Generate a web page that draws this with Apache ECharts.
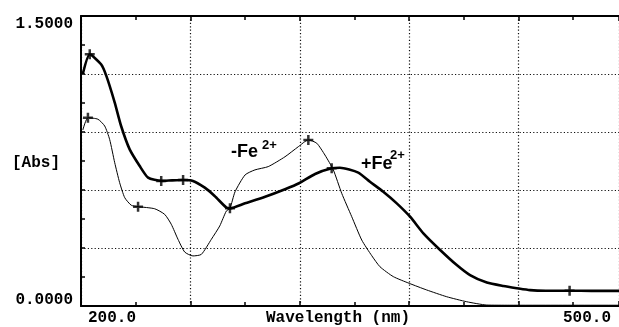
<!DOCTYPE html>
<html>
<head>
<meta charset="utf-8">
<script src="https://cdn.jsdelivr.net/npm/echarts@6/dist/echarts.min.js"></script>
<style>
  html, body { margin: 0; padding: 0; background: #fff; }
  #show { width: 619px; height: 327px; }
</style>
</head>
<body>
<div id="show"></div>
<script>
// +Fe2+ (thick trace)
var plusWl  = [201, 204.8, 211, 213.9, 218.5, 222, 226.7, 232.2, 236.8, 244, 250, 256, 261.4, 267.9, 273.3, 279.7, 281.7, 290, 301, 311.9, 319.6, 328.4, 337.5, 342, 352.1, 358.5, 365.8, 373.2, 380.5, 387.8, 397, 406.1, 413.4, 422.6, 431.7, 439, 446.3, 455, 468, 480, 494, 500];
var plusAbs = [1.2, 1.302, 1.25, 1.19, 1.052, 0.931, 0.81, 0.724, 0.664, 0.647, 0.65, 0.652, 0.647, 0.612, 0.569, 0.509, 0.505, 0.531, 0.565, 0.604, 0.635, 0.683, 0.712, 0.715, 0.69, 0.643, 0.591, 0.531, 0.462, 0.376, 0.29, 0.212, 0.16, 0.121, 0.103, 0.092, 0.082, 0.079, 0.079, 0.078, 0.078, 0.078];
// -Fe2+ (thin trace)
var minusWl  = [201, 203.8, 209.3, 213, 215.7, 218.5, 221.2, 224, 227.6, 231.3, 240.4, 245.9, 249.5, 253.2, 256.9, 261.4, 266, 271.5, 276.1, 279.7, 281.7, 284.5, 290, 295.4, 302.7, 311.9, 319.2, 324.7, 329.3, 333.8, 338.4, 343, 348.5, 354, 359.5, 364, 371.3, 380.1, 389.6, 400.6, 411.6, 422.6, 435, 460, 500];
var minusAbs = [0.91, 0.974, 0.966, 0.931, 0.862, 0.741, 0.638, 0.56, 0.521, 0.514, 0.503, 0.474, 0.423, 0.345, 0.279, 0.259, 0.267, 0.345, 0.414, 0.491, 0.505, 0.591, 0.678, 0.704, 0.721, 0.772, 0.824, 0.859, 0.842, 0.781, 0.704, 0.583, 0.462, 0.341, 0.26, 0.203, 0.152, 0.117, 0.083, 0.048, 0.022, 0.005, 0.004, 0.004, 0.004];
// cursor marks
var plusMarks  = [[204.8, 1.302], [244, 0.647], [256, 0.652], [281.7, 0.505], [337.5, 0.712], [468, 0.079]];
var minusMarks = [[203.8, 0.974], [231.3, 0.514], [324.7, 0.859]];
// axis text
var yTop = '1.5000', yBottom = '0.0000', yName = '[Abs]';
var xStart = '200.0', xEnd = '500.0', xName = 'Wavelength (nm)';

function zip(a, b) {
    var out = [];
    for (var i = 0; i < a.length; i++) out.push([a[i], b[i]]);
    return out;
}

var myChart = echarts.init(document.getElementById('show'));
var dots = { color: '#111', width: 1.2, type: [1.2, 2.2] };
var plus = 'path://M3,0h2v3h3v2h-3v3h-2v-3h-3v-2h3z';
var mono = '"Liberation Mono", "DejaVu Sans Mono", monospace';
var sans = '"Liberation Sans", Arial, sans-serif';
// the scan runs 200-500 nm but the picture is cut a little before 500
var xMax = 495.1;

function xAx(pos, split) {
    return {
        type: 'value', position: pos, min: 200, max: xMax, interval: 60,
        axisLine: { show: true, onZero: false, lineStyle: { color: '#000', width: 2 } },
        axisTick: { show: true, inside: true, length: 5, lineStyle: { color: '#000', width: 1.5 } },
        minorTick: { show: true, splitNumber: 2, length: 4, lineStyle: { color: '#000', width: 1.5 } },
        axisLabel: { show: false },
        splitLine: { show: split, lineStyle: dots }
    };
}

option = {
    animation: false,
    backgroundColor: '#fff',
    grid: { left: 81, right: 0, top: 16, bottom: 21 },
    xAxis: [xAx('bottom', true), xAx('top', false)],
    yAxis: {
        type: 'value', min: 0, max: 1.5, interval: 0.3,
        axisLine: { show: true, lineStyle: { color: '#000', width: 2 } },
        axisTick: { show: true, inside: true, length: 4, lineStyle: { color: '#000', width: 1.5 } },
        minorTick: { show: true, splitNumber: 2, length: 4, lineStyle: { color: '#000', width: 1.5 } },
        axisLabel: { show: false },
        splitLine: { show: true, lineStyle: dots }
    },
    series: [
        {
            name: '+Fe2+', type: 'line', smooth: 0.2, symbol: 'none',
            lineStyle: { color: '#000', width: 2.6 },
            data: zip(plusWl, plusAbs)
        },
        {
            name: '-Fe2+', type: 'line', smooth: 0.2, symbol: 'none',
            lineStyle: { color: '#000', width: 1 },
            data: zip(minusWl, minusAbs)
        },
        {
            type: 'scatter', symbol: plus, symbolSize: 10,
            itemStyle: { color: '#000' },
            data: plusMarks.concat(minusMarks)
        }
    ],
    graphic: [
        { type: 'text', right: 619 - 73, top: 16, style: { text: yTop, font: 'bold 16px ' + mono, fill: '#000' } },
        { type: 'text', right: 619 - 73, top: 292, style: { text: yBottom, font: 'bold 16px ' + mono, fill: '#000' } },
        { type: 'text', left: 12, top: 155, style: { text: yName, font: 'bold 16px ' + mono, fill: '#000' } },
        { type: 'text', left: 88, top: 310, style: { text: xStart, font: 'bold 16px ' + mono, fill: '#000' } },
        { type: 'text', left: 563, top: 310, style: { text: xEnd, font: 'bold 16px ' + mono, fill: '#000' } },
        { type: 'text', left: 266, top: 310, style: { text: xName, font: 'bold 16px ' + mono, fill: '#000' } },
        { type: 'text', left: 231, top: 143, style: { text: '-Fe', font: 'bold 18px ' + sans, fill: '#000' } },
        { type: 'text', left: 262, top: 139, style: { text: '2+', font: 'bold 13px ' + sans, fill: '#000' } },
        { type: 'text', left: 361, top: 155, style: { text: '+Fe', font: 'bold 18px ' + sans, fill: '#000' } },
        { type: 'text', left: 390, top: 149, style: { text: '2+', font: 'bold 13px ' + sans, fill: '#000' } }
    ]
};
myChart.setOption(option);
</script>
</body>
</html>
